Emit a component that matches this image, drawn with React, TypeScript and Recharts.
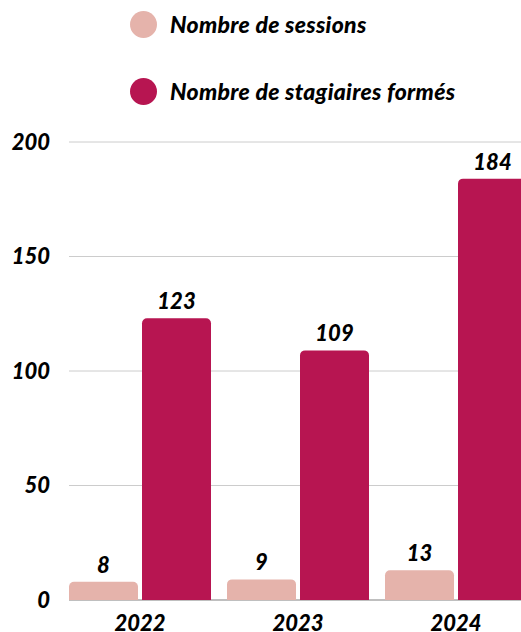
import { Bar, BarChart, CartesianGrid, LabelList, XAxis, YAxis } from "recharts";

const years = ["2022", "2023", "2024"];
const sessions = [8, 9, 13];
const trainees = [123, 109, 184];
const yTicks = [0, 50, 100, 150, 200];

const SESSIONS_COLOR = "#e5b3ab";
const TRAINEES_COLOR = "#b71551";

const legendItems = [
  { label: "Nombre de sessions", color: SESSIONS_COLOR },
  { label: "Nombre de stagiaires formés", color: TRAINEES_COLOR }
];

const font = {
  fontFamily: "Lato, Roboto, sans-serif",
  fontStyle: "italic",
  fontWeight: 900,
  fontSize: 22,
  fill: "#000"
};

export default function App() {
  const data = years.map((year, i) => ({
    year,
    sessions: sessions[i],
    trainees: trainees[i]
  }));

  return (
    <div
      style={{
        position: "fixed",
        left: 0,
        top: 0,
        width: 521,
        height: 632,
        overflow: "hidden",
        background: "#fff"
      }}
    >
      <div style={{ position: "absolute", left: 130, top: 9 }}>
        {legendItems.map((item, i) => (
          <div
            key={item.label}
            style={{
              display: "flex",
              alignItems: "center",
              height: 30,
              marginBottom: i === 0 ? 37 : 0,
              fontFamily: font.fontFamily,
              fontStyle: "italic",
              fontWeight: 900,
              fontSize: 23,
              letterSpacing: 0.3,
              color: "#000"
            }}
          >
            <span
              style={{
                display: "inline-block",
                width: 27,
                height: 27,
                borderRadius: "50%",
                background: item.color,
                marginRight: 13
              }}
            />
            {item.label}
          </div>
        ))}
      </div>
      <div style={{ position: "absolute", left: 0, top: 0 }}>
        <BarChart
          width={535}
          height={632}
          data={data}
          margin={{ top: 142, right: 0, bottom: 0, left: 0 }}
          barCategoryGap={8}
          barGap={4}
        >
          <CartesianGrid x={69} width={466} vertical={false} stroke="#cccccc" />
          <CartesianGrid
            x={69}
            width={466}
            vertical={false}
            horizontalValues={[0]}
            stroke="#999999"
          />
          <XAxis
            dataKey="year"
            axisLine={false}
            tickLine={false}
            tickSize={0}
            tickMargin={15}
            height={32}
            tick={font}
          />
          <YAxis
            domain={[0, 200]}
            ticks={yTicks}
            axisLine={false}
            tickLine={false}
            tickSize={0}
            tickMargin={11}
            width={61}
            tick={font}
          />
          <Bar
            dataKey="sessions"
            fill={SESSIONS_COLOR}
            radius={[5, 5, 0, 0]}
            isAnimationActive={false}
          >
            <LabelList dataKey="sessions" position="top" offset={9} style={font} />
          </Bar>
          <Bar
            dataKey="trainees"
            fill={TRAINEES_COLOR}
            radius={[5, 5, 0, 0]}
            isAnimationActive={false}
          >
            <LabelList dataKey="trainees" position="top" offset={9} style={font} />
          </Bar>
        </BarChart>
      </div>
    </div>
  );
}
